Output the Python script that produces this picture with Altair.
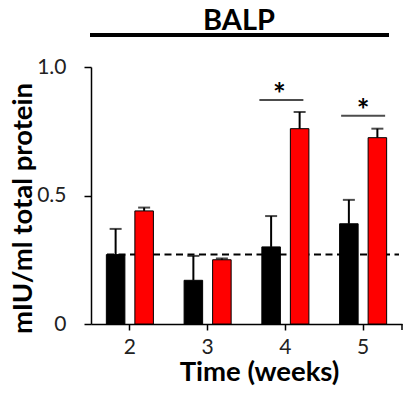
import altair as alt
import pandas as pd

weeks = ["2", "3", "4", "5"]
groups = ["Control", "Treated"]
control_mean = [0.27, 0.17, 0.30, 0.39]
control_err = [0.10, 0.095, 0.12, 0.093]
treated_mean = [0.44, 0.25, 0.76, 0.725]
treated_err = [0.013, 0.005, 0.065, 0.035]
baseline_value = 0.27
sig_weeks = ["4", "5"]
sig_height = [0.872, 0.81]
sig_label = ["*", "*"]
chart_title = ["BALP"]

rows = []
for i, w in enumerate(weeks):
    rows.append({"week": w, "group": groups[0], "mean": control_mean[i],
                 "top": control_mean[i] + control_err[i]})
    rows.append({"week": w, "group": groups[1], "mean": treated_mean[i],
                 "top": treated_mean[i] + treated_err[i]})
df = pd.DataFrame(rows)
sig = pd.DataFrame({"week": sig_weeks, "h": sig_height, "label": sig_label})
one = pd.DataFrame({"v": [baseline_value], "t": chart_title})

FONT = "Lato"
W, H = 311, 257
XT = "Time (weeks)"
YT = "mIU/ml total protein"

xscale = alt.Scale(domain=weeks, paddingInner=0.395, paddingOuter=0.1975)
yscale = alt.Scale(domain=[0, 1], nice=False)
offscale = alt.Scale(domain=groups, paddingInner=0.35, paddingOuter=0)

x_axis = alt.Axis(labelAngle=0, labelFontSize=21,
                  labelFont=FONT, labelColor="#222", labelPadding=6,
                  tickSize=6, tickWidth=1.5, tickColor="black",
                  domainColor="black", domainWidth=1.5,
                  titleFont=FONT, titleFontSize=27.5, titleFontWeight="bold",
                  titleColor="black", titleX=168, titleY=56.5,
                  titleBaseline="alphabetic", titleAnchor="middle")
y_axis = alt.Axis(values=[0, 0.5, 1.0],
                  labelExpr="datum.value == 0 ? '0' : format(datum.value, '.1f')",
                  labelFontSize=21, labelFont=FONT, labelColor="#222",
                  labelPadding=18, tickSize=7, tickWidth=1.5, tickColor="black",
                  domainColor="black", domainWidth=1.5, grid=False,
                  titleFont=FONT, titleFontSize=27.5, titleFontWeight="bold",
                  titleColor="black", titleX=-54, titleY=141,
                  titleAngle=-90, titleBaseline="bottom", titleAnchor="middle")

def xe():
    return alt.X("week:N", scale=xscale, sort=weeks, title=XT, axis=x_axis)

def ye(field):
    return alt.Y(field, scale=yscale, title=YT, axis=y_axis)

def oe():
    return alt.XOffset("group:N", scale=offscale, sort=groups)

bars = alt.Chart(df).mark_bar(stroke="black", strokeWidth=1).encode(
    x=xe(), y=ye("mean:Q"), xOffset=oe(),
    color=alt.Color("group:N", scale=alt.Scale(domain=groups, range=["#000000", "#ff0000"]),
                    legend=None))

dashed = alt.Chart(one).mark_rule(color="black", strokeWidth=2, strokeDash=[7, 4.5]).encode(
    y=ye("v:Q"), x=alt.value(16), x2=alt.value(308))

whisker = alt.Chart(df).mark_bar(width=2, color="black").encode(
    x=xe(), xOffset=oe(), y=ye("mean:Q"), y2="top:Q")

cap = alt.Chart(df).mark_tick(color="black", thickness=2, size=12, orient="horizontal").encode(
    x=xe(), xOffset=oe(), y=ye("top:Q"))

sig_layers = []
for wk, line_off, star_dx in [("4", -4, -6), ("5", 0, 0)]:
    base = alt.Chart(sig).transform_filter(alt.datum.week == wk)
    sig_layers.append(base.mark_tick(color="black", thickness=2, size=44, orient="horizontal",
                                     xOffset=line_off).encode(x=xe(), y=ye("h:Q")))
    sig_layers.append(base.mark_text(font=FONT, fontSize=30, fontWeight="bold", color="black",
                                     baseline="alphabetic", dy=5, dx=star_dx).encode(
        x=xe(), y=ye("h:Q"), text="label:N"))

title_text = alt.Chart(one).mark_text(font=FONT, fontSize=29, fontWeight="bold", color="black",
                                      baseline="alphabetic", align="center").encode(
    x=alt.value(148), y=alt.value(-37), text="t:N")

title_line = alt.Chart(one).mark_rule(color="black", strokeWidth=4).encode(
    x=alt.value(-1), x2=alt.value(298), y=alt.value(-32))

end_tick = alt.Chart(one).mark_rule(color="black", strokeWidth=1.5).encode(
    x=alt.value(W), y=alt.value(H), y2=alt.value(H + 6))

chart = alt.layer(dashed, bars, whisker, cap, *sig_layers, title_text, title_line,
                  end_tick).properties(
    width=W, height=H,
    autosize=alt.AutoSizeParams(type="none"),
    padding={"left": 83, "top": 59, "right": 3, "bottom": 63},
).configure_view(stroke=None)

chart.save("out.html", embed_options={"renderer": "svg", "actions": False})
